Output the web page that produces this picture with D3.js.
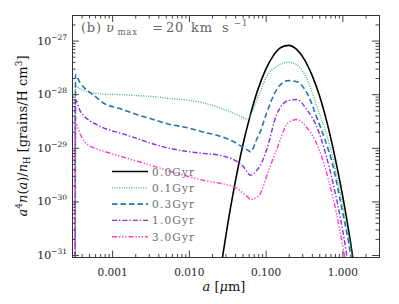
<!DOCTYPE html>
<html><head><meta charset="utf-8">
<script src="https://cdn.jsdelivr.net/npm/d3@7"></script>
<style>body{margin:0;background:#fff}</style>
</head><body><svg id="c" width="399" height="304"></svg>
<script>
// ---------------- data ----------------
const ages = ["0.0Gyr", "0.1Gyr", "0.3Gyr", "1.0Gyr", "3.0Gyr"];

// initial log-normal distribution (0.0 Gyr)
const grainSizeInit = [0.0251, 0.0316, 0.0398, 0.0501, 0.0631, 0.0794, 0.1, 0.126, 0.158, 0.2,
  0.251, 0.316, 0.398, 0.501, 0.631, 0.794, 1.0, 1.26, 1.58];
const gyr00 = [4.07e-32, 3.31e-31, 2.14e-30, 1.07e-29, 4.07e-29, 1.23e-28, 2.88e-28, 5.25e-28, 7.41e-28, 8.13e-28,
  6.92e-28, 4.57e-28, 2.34e-28, 9.55e-29, 2.95e-29, 7.08e-30, 1.35e-30, 1.95e-31, 2.24e-32];

// evolved distributions (grain radius in micron)
const grainSize = [3.3e-4, 3.33e-4, 3.81e-4, 4.43e-4, 5.14e-4, 6.29e-4, 7.67e-4, 1.265e-3, 2.09e-3, 3.44e-3,
  5.68e-3, 9.36e-3, 0.01542, 0.0254, 0.0420, 0.0522, 0.0589, 0.0635, 0.0764, 0.0844,
  0.1032, 0.1394, 0.1973, 0.254, 0.343, 0.485, 0.593, 0.762, 0.931, 1.05,
  1.138, 1.283, 1.334, 1.50];
const gyr01 = [1e-32, 1.45e-28, 1.27e-28, 1.14e-28, 1.07e-28, 1.04e-28, 1.00e-28, 9.84e-29, 9.42e-29, 9.02e-29,
  8.28e-29, 7.76e-29, 6.89e-29, 5.56e-29, 4.18e-29, 3.60e-29, 3.38e-29, 4.00e-29, 7.60e-29, 1.07e-28,
  2.12e-28, 3.30e-28, 3.92e-28, 3.55e-28, 1.95e-28, 4.95e-29, 2.20e-29, 5.83e-30, 1.48e-30, 6.29e-31,
  3.46e-31, 1.41e-31, 1.0e-31, 2.89e-32];
const gyr03 = [1e-32, 2.31e-28, 1.64e-28, 1.27e-28, 1.07e-28, 8.65e-29, 6.84e-29, 5.40e-29, 4.18e-29, 3.38e-29,
  2.72e-29, 2.39e-29, 1.97e-29, 1.65e-29, 1.21e-29, 9.95e-30, 8.95e-30, 8.40e-30, 1.43e-29, 1.93e-29,
  4.49e-29, 1.22e-28, 1.79e-28, 1.71e-28, 1.07e-28, 3.10e-29, 1.43e-29, 4.33e-30, 1.10e-30, 4.67e-31,
  2.68e-31, 1.0e-31, 6.8e-32, 2.33e-32];
const gyr10 = [1e-32, 7.94e-29, 4.95e-29, 3.75e-29, 3.16e-29, 2.72e-29, 2.36e-29, 1.89e-29, 1.50e-29, 1.18e-29,
  9.75e-30, 8.57e-30, 7.87e-30, 7.23e-30, 5.58e-30, 4.33e-30, 3.34e-30, 3.07e-30, 3.80e-30, 4.57e-30,
  9.33e-30, 4.18e-29, 7.60e-29, 7.94e-29, 5.18e-29, 2.10e-29, 8.57e-30, 2.09e-30, 5.31e-31, 2.07e-31,
  1.0e-31, 3.58e-32, 2.5e-32, 1.0e-32];
const gyr30 = [1e-32, 2.96e-29, 1.85e-29, 1.26e-29, 1.08e-29, 9.55e-30, 8.68e-30, 7.01e-30, 5.66e-30, 4.57e-30,
  3.64e-30, 2.98e-30, 2.48e-30, 2.18e-30, 1.76e-30, 1.39e-30, 1.20e-30, 1.08e-30, 1.20e-30, 1.36e-30,
  2.98e-30, 9.33e-30, 2.96e-29, 3.38e-29, 2.39e-29, 1.02e-29, 4.33e-30, 1.10e-30, 2.79e-31, 1.09e-31,
  5.5e-32, 3e-32, 2e-32, 1e-32];

const xMajor = [0.001, 0.01, 0.1, 1];
const xTickLabels = ["0.001", "0.010", "0.100", "1.000"];
const yMajor = [1e-31, 1e-30, 1e-29, 1e-28, 1e-27];
const yTickExp = ["\u221231", "\u221230", "\u221229", "\u221228", "\u221227"];

// ---------------- layout / style ----------------
const L = 72, R = 379, T = 15, B = 257.5;
const FONT = "'DejaVu Serif', serif";
const styles = [
  {color: "#000000", dash: null, w: 1.6},
  {color: "#3cb371", dash: "1,1.4", w: 1.3},
  {color: "#2176b8", dash: "5.5,3", w: 1.6},
  {color: "#8a2be2", dash: "5,2,1.4,2", w: 1.4},
  {color: "#ff3acb", dash: "5,2,1.3,1.8,1.3,1.8,1.3,2", w: 1.4}
];

const svg = d3.select("#c");
const x = d3.scaleLog().domain([3e-4, 3]).range([L, R]);
const y = d3.scaleLog().domain([9e-32, 3e-27]).range([B, T]);

svg.append("defs").append("clipPath").attr("id", "clip")
  .append("rect").attr("x", L).attr("y", T).attr("width", R - L).attr("height", B - T);

// curves
const seriesList = [
  {a: grainSizeInit, v: gyr00},
  {a: grainSize, v: gyr01},
  {a: grainSize, v: gyr03},
  {a: grainSize, v: gyr10},
  {a: grainSize, v: gyr30}
];
const line = d3.line().x(d => x(d[0])).y(d => y(d[1])).curve(d3.curveMonotoneX);
const gCurves = svg.append("g").attr("clip-path", "url(#clip)");
seriesList.forEach((s, i) => {
  const pts = s.a.map((a, k) => [a, s.v[k]]);
  gCurves.append("path").attr("d", line(pts))
    .attr("fill", "none").attr("stroke", styles[i].color)
    .attr("stroke-width", styles[i].w)
    .attr("stroke-dasharray", styles[i].dash);
});

// axes
const minorX = x.ticks().filter(t => !xMajor.some(m => Math.abs(m - t) / m < 1e-6));
const minorY = y.ticks().filter(t => !yMajor.some(m => Math.abs(m - t) / m < 1e-6));

function styleAxis(g) {
  g.select(".domain").remove();
  g.selectAll(".tick line").attr("stroke", "#444");
  g.selectAll(".tick text").style("font-family", FONT).attr("fill", "#222");
}
svg.append("g").attr("transform", `translate(0,${B})`)
  .call(d3.axisBottom(x).tickValues(xMajor).tickSize(-7).tickPadding(11.5)
    .tickFormat((d, i) => xTickLabels[i]))
  .call(styleAxis).selectAll(".tick text").style("font-size", "10.5px");
svg.append("g").attr("transform", `translate(0,${B})`)
  .call(d3.axisBottom(x).tickValues(minorX).tickSize(-3.5).tickFormat(""))
  .call(styleAxis);
svg.append("g").attr("transform", `translate(0,${T})`)
  .call(d3.axisTop(x).tickValues(xMajor).tickSize(-7).tickFormat(""))
  .call(styleAxis);
svg.append("g").attr("transform", `translate(0,${T})`)
  .call(d3.axisTop(x).tickValues(minorX).tickSize(-3.5).tickFormat(""))
  .call(styleAxis);

const gl = svg.append("g").attr("transform", `translate(${L},0)`)
  .call(d3.axisLeft(y).tickValues(yMajor).tickSize(-7).tickPadding(5).tickFormat(() => ""))
  .call(styleAxis);
gl.selectAll(".tick text").each(function (d, i) {
  const t = d3.select(this).style("font-size", "11px");
  t.append("tspan").text("10");
  t.append("tspan").attr("dy", -5).style("font-size", "7.5px").text(yTickExp[i]);
});
svg.append("g").attr("transform", `translate(${L},0)`)
  .call(d3.axisLeft(y).tickValues(minorY).tickSize(-3.5).tickFormat(""))
  .call(styleAxis);
svg.append("g").attr("transform", `translate(${R},0)`)
  .call(d3.axisRight(y).tickValues(yMajor).tickSize(-7).tickFormat(""))
  .call(styleAxis);
svg.append("g").attr("transform", `translate(${R},0)`)
  .call(d3.axisRight(y).tickValues(minorY).tickSize(-3.5).tickFormat(""))
  .call(styleAxis);

// frame
svg.append("rect").attr("x", L + 0.5).attr("y", T + 0.5).attr("width", R - L).attr("height", B - T - 0.5)
  .attr("fill", "none").attr("stroke", "#333").attr("stroke-width", 1);

// legend
const gLeg = svg.append("g");
ages.forEach((lab, i) => {
  const yy = 171.5 + i * 16.3;
  gLeg.append("line").attr("x1", 112).attr("x2", 148).attr("y1", yy).attr("y2", yy)
    .attr("stroke", styles[i].color).attr("stroke-width", styles[i].w)
    .attr("stroke-dasharray", styles[i].dash);
  gLeg.append("text").attr("x", 152).attr("y", yy + 4)
    .style("font-family", FONT).style("font-size", "10.5px").style("letter-spacing", "1.2px")
    .attr("fill", "#6e6e6e").text(lab);
});

// panel title
const tcol = "#666";
function tt(xp, yp, txt, size, italic) {
  svg.append("text").attr("x", xp).attr("y", yp).text(txt)
    .style("font-family", FONT).style("font-size", size + "px")
    .style("font-style", italic ? "italic" : "normal")
    .style("letter-spacing", "0.8px").attr("fill", tcol);
}
tt(81, 31.5, "(b)", 13, false);
tt(106, 31.5, "\u03c5", 13, true);
tt(117.5, 35, "max", 8.5, false);
tt(152, 31.5, "=", 13, false);
tt(166, 31.5, "20", 13, false);
tt(191, 31.5, "km", 13, false);
tt(222, 31.5, "s", 13, false);
tt(234, 26, "\u22121", 8.5, false);

// y-axis title
const yt = svg.append("text").attr("transform", "translate(27,136) rotate(-90)")
  .attr("text-anchor", "middle").style("font-family", FONT).style("font-size", "13px").attr("fill", "#111");
yt.append("tspan").style("font-style", "italic").text("a");
yt.append("tspan").attr("dy", -5).style("font-size", "9px").text("4");
yt.append("tspan").attr("dy", 5).style("font-style", "italic").text("n");
yt.append("tspan").text("(");
yt.append("tspan").style("font-style", "italic").text("a");
yt.append("tspan").text(")/");
yt.append("tspan").style("font-style", "italic").text("n");
yt.append("tspan").attr("dy", 3).style("font-size", "8.5px").text("H");
yt.append("tspan").attr("dy", -3).text(" [grains/H cm");
yt.append("tspan").attr("dy", -5).style("font-size", "9px").text("3");
yt.append("tspan").attr("dy", 5).text("]");

// x-axis title
const xt = svg.append("text").attr("x", 224).attr("y", 291).attr("text-anchor", "middle")
  .style("font-family", FONT).style("font-size", "13px").attr("fill", "#111");
xt.append("tspan").style("font-style", "italic").text("a");
xt.append("tspan").text(" [");
xt.append("tspan").style("font-style", "italic").text("\u03bc");
xt.append("tspan").text("m]");
</script>
</body></html>
